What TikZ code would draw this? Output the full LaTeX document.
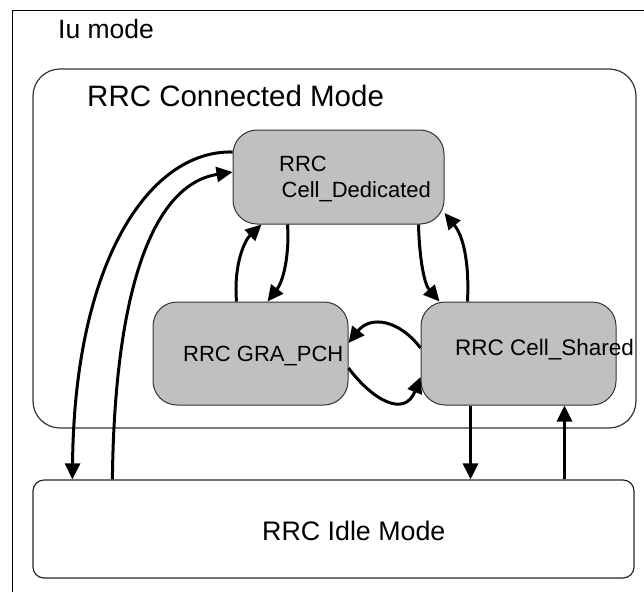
\documentclass[tikz,border=0pt]{standalone}
\usepackage{fontspec}
\setmainfont{Liberation Sans}
\usepackage{xcolor}
\usepackage{tikz}
\usetikzlibrary{arrows.meta}
\definecolor{boxgray}{RGB}{192,192,192}

\begin{document}
\begin{tikzpicture}[x=1pt,y=-1pt,
    rrcbox/.style={draw=black!80,fill=boxgray,line width=1pt,rounded corners=24pt,
      minimum width=195pt,minimum height=103pt,inner sep=0pt},
    flow/.style={line width=3pt,-{Triangle[length=16pt,width=15pt]}},
    txt/.style={inner sep=0pt,anchor=base west}]
    \useasboundingbox (0,0) rectangle (644,592);
    % Iu mode frame (only top and left side visible)
    \draw[line width=1.3pt] (12.5,592) -- (12.5,10.5) -- (644,10.5);
    \node[txt,font=\fontsize{26.5}{30}\selectfont] (iu) at (58,38) {Iu mode};

    % connected mode and idle mode
    \node[draw=black!80,line width=1.2pt,rounded corners=27pt,minimum width=603pt,
      minimum height=359pt,inner sep=0pt] (conn) at (334.5,248.5) {};
    \node[txt,font=\fontsize{29.5}{34}\selectfont] (conntxt) at (87,106) {RRC Connected Mode};
    \node[draw=black!85,line width=1.2pt,rounded corners=11pt,minimum width=601pt,
      minimum height=98pt,inner sep=0pt] (idle) at (333.5,529) {};
    \node[txt,font=\fontsize{26.8}{32}\selectfont] (idletxt) at (262,540) {RRC Idle Mode};

    % the three states
    \node[rrcbox,minimum width=211pt,minimum height=94pt] (ded) at (338.5,177) {};
    \node[rrcbox] (gra) at (250.5,353.5) {};
    \node[rrcbox] (shared) at (518.5,353.5) {};
    \node[txt,align=left,font=\fontsize{22}{26}\selectfont] (dedtxt) at (279,197)
      {RRC\\\hspace*{2.5pt}Cell\_Dedicated};
    \node[txt,font=\fontsize{22}{26}\selectfont] (gratxt) at (183,361) {RRC GRA\_PCH};
    \node[txt,font=\fontsize{22.5}{26}\selectfont] (sharedtxt) at (455,355) {RRC Cell\_Shared};

    % transitions
    \draw[flow] ([yshift=25pt]ded.west) .. controls +(-83,-2) and +(2,-218) .. ([xshift=40pt]idle.north west);
    \draw[flow] ([xshift=80pt]idle.north west) .. controls +(2,-180) and +(-83,13) .. ([yshift=5pt]ded.west);
    \draw[flow] ([xshift=84pt]gra.north west) .. controls +(-3,-37) and +(-17,16) .. ([xshift=29pt]ded.south west);
    \draw[flow] ([xshift=55pt]ded.south west) .. controls +(2,26) and +(17,-22) .. ([xshift=115pt]gra.north west);
    \draw[flow] ([xshift=-26pt]ded.south east) .. controls +(1,36) and +(-15,-17) .. ([xshift=19pt]shared.north west);
    \draw[flow] ([xshift=47pt]shared.north west) .. controls +(2,-42) and +(18,22) .. ([yshift=-36pt]ded.east);
    \draw[flow] ([yshift=5.5pt]shared.west) .. controls +(-21,-28) and +(22,-28) .. ([yshift=10.5pt]gra.east);
    \draw[flow] ([yshift=-14.5pt]gra.east) .. controls +(24,32) and +(-16,41) .. ([yshift=-23.5pt]shared.west);
    \coordinate (down) at ([xshift=50pt]shared.south west);
    \coordinate (up) at ([xshift=144pt]shared.south west);
    \draw[flow] (down) -- (down |- idle.north);
    \draw[flow] (up |- idle.north) -- (up);
\end{tikzpicture}
\end{document}
